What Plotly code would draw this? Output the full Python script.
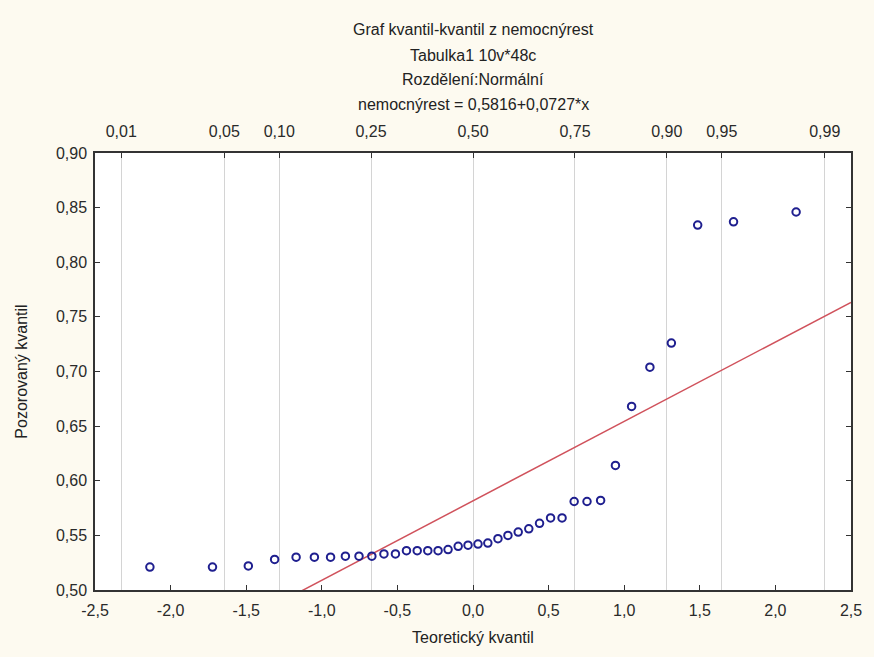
import plotly.graph_objects as go

# Theoretical quantiles (normal, n = 38) and observed quantiles
theoretical = [-2.137, -1.723, -1.486, -1.312, -1.170, -1.049, -0.942, -0.844, -0.754, -0.669,
               -0.589, -0.513, -0.440, -0.369, -0.299, -0.231, -0.165, -0.098, -0.033,
               0.033, 0.098, 0.165, 0.231, 0.299, 0.369, 0.440, 0.513, 0.589, 0.669,
               0.754, 0.844, 0.942, 1.049, 1.170, 1.312, 1.486, 1.723, 2.137]
observed = [0.521, 0.521, 0.522, 0.528, 0.530, 0.530, 0.530, 0.531, 0.531, 0.531,
            0.533, 0.533, 0.536, 0.536, 0.536, 0.536, 0.537, 0.540, 0.541,
            0.542, 0.543, 0.547, 0.550, 0.553, 0.556, 0.561, 0.566, 0.566, 0.581,
            0.581, 0.582, 0.614, 0.668, 0.704, 0.726, 0.834, 0.837, 0.846]

intercept = 0.5816
slope = 0.0727

x_tick_vals = [-2.5, -2.0, -1.5, -1.0, -0.5, 0.0, 0.5, 1.0, 1.5, 2.0, 2.5]
x_tick_text = ["-2,5", "-2,0", "-1,5", "-1,0", "-0,5", "0,0", "0,5", "1,0", "1,5", "2,0", "2,5"]
y_tick_vals = [0.50, 0.55, 0.60, 0.65, 0.70, 0.75, 0.80, 0.85, 0.90]
y_tick_text = ["0,50", "0,55", "0,60", "0,65", "0,70", "0,75", "0,80", "0,85", "0,90"]
prob_vals = [-2.3263, -1.6449, -1.2816, -0.6745, 0.0, 0.6745, 1.2816, 1.6449, 2.3263]
prob_text = ["0,01", "0,05", "0,10", "0,25", "0,50", "0,75", "0,90", "0,95", "0,99"]

title_lines = ["Graf kvantil-kvantil z nemocnýrest",
               "Tabulka1 10v*48c",
               "Rozdělení:Normální",
               "nemocnýrest = 0,5816+0,0727*x"]

x_range = [-2.5, 2.5]
FONT = "Liberation Sans, Arial, sans-serif"

W, H = 874, 657
M_L, M_R, M_T, M_B = 95, 13, 153, 67
plot_h = H - M_T - M_B

fig = go.Figure()
fig.add_trace(go.Scatter(
    x=x_range, y=[intercept + slope * v for v in x_range],
    mode="lines", line=dict(color="#d0525c", width=1.5),
    showlegend=False, hoverinfo="skip"))
fig.add_trace(go.Scatter(
    x=theoretical, y=observed, mode="markers",
    marker=dict(symbol="circle-open", size=7.5, color="#1f1f8f",
                line=dict(width=2, color="#1f1f8f")),
    showlegend=False))
# invisible trace to activate top axis
fig.add_trace(go.Scatter(x=x_range, y=[0.5, 0.5], xaxis="x2", mode="markers",
                         marker=dict(opacity=0), showlegend=False, hoverinfo="skip"))

annotations = []
title_py = [30, 55, 79, 104]
for txt, py in zip(title_lines, title_py):
    annotations.append(dict(text=txt, x=0.5, y=(H - M_B - py) / plot_h,
                            xref="paper", yref="paper",
                            xanchor="center", yanchor="middle", showarrow=False,
                            font=dict(family=FONT, size=16, color="#222222")))

fig.update_layout(
    width=W, height=H,
    paper_bgcolor="#fdfaf0", plot_bgcolor="#ffffff",
    margin=dict(l=M_L, r=M_R, t=M_T, b=M_B),
    font=dict(family=FONT, size=16, color="#2a2a2a"),
    annotations=annotations,
    xaxis=dict(range=x_range, tickvals=x_tick_vals, ticktext=x_tick_text,
               showgrid=False, zeroline=False, showline=True, mirror=True,
               linecolor="#333333", linewidth=1.5, ticks="inside", ticklen=5,
               tickcolor="#333333", ticklabelstandoff=5,
               title=dict(text="Teoretický kvantil", standoff=14,
                          font=dict(family=FONT, size=16, color="#222222"))),
    xaxis2=dict(range=x_range, overlaying="x", side="top", tickvals=prob_vals,
                ticktext=prob_text, showgrid=True, gridcolor="#d4d4d4", gridwidth=1,
                zeroline=False, showline=False, ticks="inside", ticklen=5,
                tickcolor="#333333", ticklabelstandoff=12),
    yaxis=dict(range=[0.5, 0.9], tickvals=y_tick_vals, ticktext=y_tick_text,
               showgrid=False, zeroline=False, showline=True, mirror="ticks",
               linecolor="#333333", linewidth=1.5, ticks="inside", ticklen=5,
               tickcolor="#333333", ticklabelstandoff=3,
               title=dict(text="Pozorovaný kvantil", standoff=24,
                          font=dict(family=FONT, size=16, color="#222222"))),
)

fig.write_html("out.html")
